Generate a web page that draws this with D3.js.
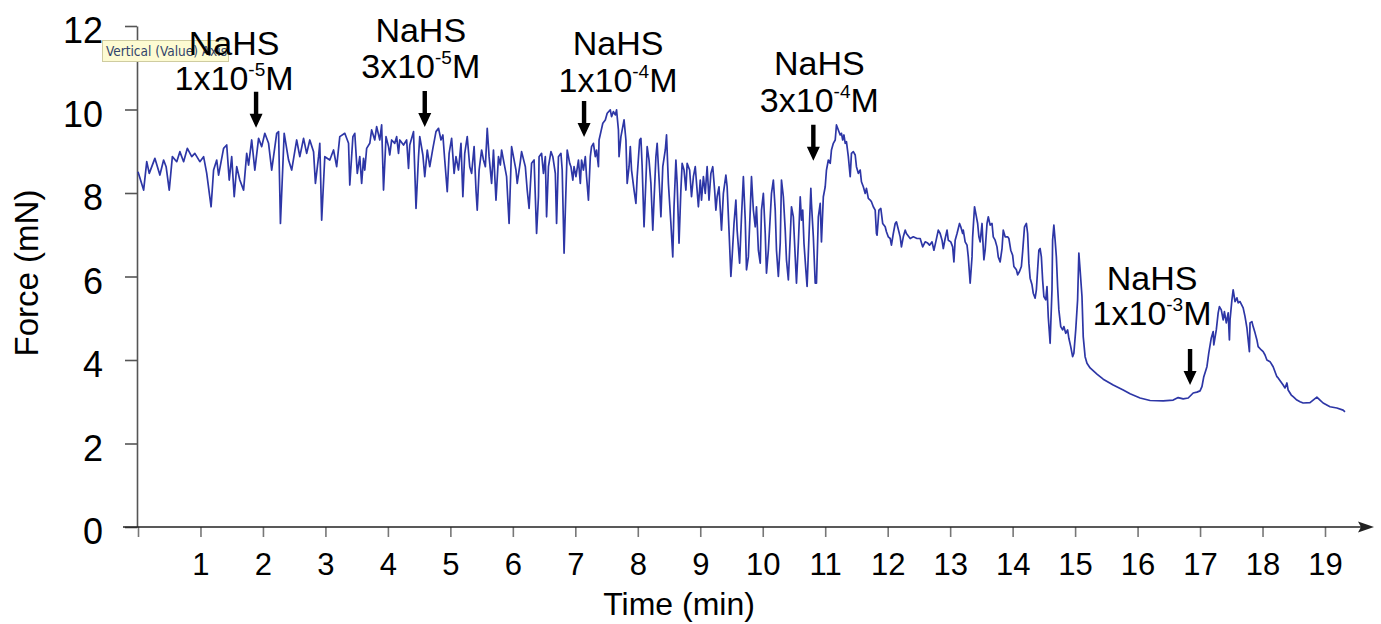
<!DOCTYPE html>
<html>
<head>
<meta charset="utf-8">
<script src="https://cdn.jsdelivr.net/npm/d3@7"></script>
<style>
  html, body { margin: 0; padding: 0; background: #fff; }
  svg { display: block; font-family: "Liberation Sans", Arial, Helvetica, sans-serif; }
</style>
</head>
<body>
<svg id="chart" width="1381" height="624"></svg>
<script>
// Isometric force recording (mN) against time (min), with cumulative NaHS additions.
const traceTime = [
  0.00,0.09,0.14,0.18,0.27,0.35,0.41,0.45,0.50,0.55,0.62,0.67,0.73,0.79,0.86,0.91,0.99,1.05,1.10,1.17,
  1.21,1.26,1.29,1.37,1.42,1.46,1.50,1.54,1.58,1.63,1.69,1.74,1.77,1.82,1.87,1.93,1.98,2.03,2.09,2.14,
  2.22,2.25,2.28,2.34,2.41,2.46,2.54,2.59,2.65,2.70,2.75,2.81,2.84,2.89,2.91,2.94,2.99,3.07,3.13,3.18,
  3.23,3.31,3.37,3.39,3.44,3.47,3.51,3.55,3.58,3.61,3.63,3.66,3.71,3.74,3.79,3.82,3.87,3.90,3.93,3.97,
  4.01,4.03,4.06,4.11,4.14,4.17,4.19,4.25,4.30,4.33,4.35,4.41,4.45,4.49,4.51,4.56,4.59,4.63,4.67,4.72,
  4.77,4.81,4.85,4.88,4.91,4.95,4.98,5.02,5.06,5.09,5.13,5.17,5.20,5.23,5.27,5.31,5.34,5.38,5.41,5.43,
  5.46,5.50,5.53,5.56,5.59,5.62,5.66,5.69,5.73,5.77,5.80,5.82,5.86,5.90,5.94,5.98,6.01,6.05,6.07,6.12,
  6.14,6.20,6.23,6.26,6.30,6.34,6.38,6.41,6.42,6.46,6.49,6.52,6.54,6.57,6.61,6.64,6.68,6.70,6.73,6.77,
  6.79,6.82,6.85,6.87,6.91,6.93,6.96,6.98,7.01,7.05,7.08,7.10,7.13,7.16,7.18,7.21,7.24,7.26,7.29,7.32,
  7.34,7.37,7.38,7.41,7.44,7.48,7.51,7.56,7.58,7.61,7.64,7.66,7.69,7.70,7.73,7.76,7.78,7.81,7.83,7.86,
  7.88,7.90,7.94,7.97,7.99,8.03,8.05,8.07,8.10,8.13,8.15,8.18,8.21,8.24,8.26,8.29,8.31,8.35,8.37,8.40,
  8.44,8.46,8.49,8.53,8.56,8.58,8.61,8.63,8.66,8.69,8.71,8.74,8.77,8.79,8.83,8.86,8.89,8.92,8.97,9.00,
  9.02,9.05,9.08,9.11,9.14,9.17,9.20,9.23,9.25,9.27,9.30,9.34,9.37,9.41,9.43,9.46,9.49,9.51,9.54,9.57,
  9.59,9.63,9.66,9.69,9.72,9.74,9.77,9.80,9.82,9.85,9.88,9.90,9.93,9.96,9.98,10.01,10.04,10.06,10.09,10.12,
  10.14,10.17,10.20,10.22,10.25,10.28,10.30,10.33,10.36,10.38,10.41,10.44,10.46,10.49,10.52,10.54,10.57,10.60,10.62,10.64,
  10.66,10.69,10.71,10.74,10.77,10.78,10.81,10.84,10.86,10.89,10.92,10.94,10.97,11.00,11.02,11.05,11.08,11.10,11.13,11.16,
  11.18,11.21,11.24,11.26,11.28,11.30,11.32,11.34,11.37,11.40,11.42,11.45,11.48,11.50,11.53,11.56,11.58,11.61,11.64,11.66,
  11.69,11.72,11.74,11.77,11.80,11.82,11.83,11.86,11.89,11.92,11.96,11.98,12.01,12.04,12.06,12.09,12.12,12.14,12.20,12.22,
  12.25,12.28,12.30,12.36,12.41,12.47,12.52,12.56,12.60,12.64,12.67,12.71,12.74,12.77,12.81,12.84,12.87,12.89,12.92,12.95,
  12.97,13.01,13.04,13.06,13.08,13.11,13.13,13.15,13.17,13.20,13.21,13.24,13.27,13.29,13.32,13.35,13.36,13.39,13.41,13.44,
  13.46,13.48,13.51,13.52,13.54,13.56,13.59,13.61,13.64,13.67,13.69,13.72,13.75,13.77,13.80,13.83,13.85,13.88,13.92,13.94,
  13.97,14.00,14.02,14.06,14.08,14.11,14.14,14.16,14.19,14.22,14.24,14.26,14.28,14.31,14.33,14.36,14.38,14.40,14.42,14.44,
  14.46,14.48,14.50,14.53,14.55,14.57,14.60,14.63,14.64,14.66,14.68,14.70,14.72,14.74,14.77,14.80,14.82,14.85,14.88,14.90,
  14.93,14.96,14.98,15.01,15.04,15.06,15.08,15.11,15.13,15.16,15.19,15.24,15.35,15.45,15.61,15.77,15.88,16.04,16.20,16.41,
  16.57,16.65,16.73,16.81,16.89,16.95,17.00,17.03,17.06,17.11,17.14,17.18,17.21,17.22,17.26,17.29,17.31,17.34,17.37,17.39,
  17.42,17.45,17.47,17.48,17.51,17.53,17.56,17.59,17.61,17.64,17.69,17.72,17.75,17.79,17.80,17.83,17.85,17.88,17.91,17.93,
  17.98,18.01,18.04,18.07,18.12,18.17,18.23,18.25,18.33,18.36,18.39,18.41,18.46,18.49,18.55,18.60,18.65,18.76,18.87,18.92,
  18.97,19.08,19.19,19.29,19.32
];
const traceForce = [
  8.51,8.07,8.75,8.47,8.83,8.43,8.79,8.63,8.07,8.87,8.75,8.99,8.75,9.07,8.87,8.95,8.75,8.87,8.47,7.67,
  8.55,8.79,8.43,9.07,9.15,8.31,8.87,7.91,8.63,8.31,8.07,8.95,8.67,9.27,8.55,9.31,9.11,9.43,9.19,8.55,
  9.43,9.47,7.27,9.43,8.79,8.55,9.27,8.87,9.31,8.95,9.27,8.99,8.23,8.87,9.19,7.35,8.87,8.79,9.03,8.63,
  9.35,9.43,9.19,8.19,9.35,9.43,8.47,8.87,8.23,8.83,8.55,9.07,9.19,9.51,9.27,9.59,9.27,9.63,8.07,9.35,
  9.11,8.91,9.27,9.19,9.35,8.95,9.27,9.15,9.27,8.59,9.15,9.47,7.63,8.87,9.35,8.91,8.39,9.03,8.63,9.07,
  9.47,9.55,9.27,9.39,8.79,8.03,8.95,9.31,8.47,8.87,8.55,9.19,7.91,8.95,9.35,8.63,8.47,9.11,8.07,7.59,
  8.55,9.03,8.79,8.63,9.55,8.87,8.23,9.03,7.83,8.87,8.67,9.03,8.71,8.39,7.27,9.11,8.87,8.55,8.23,8.75,
  8.99,8.63,8.07,7.63,8.71,8.79,7.03,7.91,8.87,8.95,8.47,8.87,7.43,8.63,8.99,8.87,8.47,7.27,8.87,8.95,
  8.55,6.56,8.07,9.03,8.71,8.63,8.31,8.63,8.39,8.79,8.23,8.79,8.55,8.87,8.39,7.83,8.87,9.11,9.19,8.87,
  9.03,8.63,9.27,9.47,9.67,9.75,9.91,9.99,9.83,9.95,9.87,9.99,9.51,8.87,9.35,9.59,9.75,9.27,8.23,8.63,
  9.11,8.55,8.07,7.75,8.39,9.27,9.31,8.63,7.19,8.31,9.11,8.79,8.23,7.11,7.83,8.87,9.19,8.07,7.43,8.63,
  9.03,9.39,8.23,7.27,6.47,7.67,8.79,8.23,6.80,8.07,8.71,8.55,8.07,8.71,8.55,7.91,8.39,8.63,7.67,8.31,
  7.83,8.39,7.99,8.63,7.83,8.47,8.63,8.07,7.59,7.91,8.15,7.11,7.99,8.43,8.15,7.11,6.00,6.47,7.27,7.83,
  7.11,6.32,7.43,8.39,7.35,6.16,6.47,7.59,8.39,7.59,7.19,7.67,6.63,6.32,7.59,7.99,7.03,6.08,6.63,7.43,
  7.99,8.31,7.59,6.63,6.00,6.80,8.31,7.91,7.11,6.40,5.92,6.95,7.67,7.43,6.47,5.84,6.80,7.91,7.35,7.59,
  6.80,6.16,5.76,6.95,8.11,7.75,6.95,5.84,5.84,7.43,7.75,6.83,7.91,8.15,8.55,8.79,8.71,9.03,9.19,9.27,
  9.63,9.51,9.39,9.43,9.27,9.39,9.19,9.23,8.87,8.39,8.95,8.99,8.91,8.63,8.47,8.55,8.27,8.15,7.99,8.11,
  7.87,7.83,7.79,7.67,7.59,7.03,6.99,7.59,7.63,7.27,7.19,7.07,6.95,6.91,6.75,7.03,7.27,7.31,6.95,6.71,
  6.95,7.11,7.03,6.91,6.95,6.91,6.91,6.71,6.83,6.80,6.75,6.83,6.63,6.83,7.11,7.03,6.87,6.67,6.91,7.11,
  6.87,6.83,6.71,6.35,6.87,7.03,7.15,7.27,7.19,7.03,7.11,6.83,6.75,6.47,5.84,6.47,6.95,7.67,7.51,7.27,
  6.95,6.83,7.27,6.95,6.40,6.63,7.27,7.43,7.23,7.27,6.95,6.87,6.71,6.47,6.35,6.67,7.11,6.95,6.95,6.91,
  6.63,6.51,6.24,6.16,6.04,6.12,6.24,6.59,7.19,7.27,7.03,6.32,5.96,5.80,5.60,5.48,5.68,6.16,6.63,6.67,
  6.47,5.92,5.52,5.44,5.76,5.04,4.40,5.68,6.87,7.23,6.87,6.47,5.76,5.20,4.80,4.72,4.80,4.64,4.72,4.52,
  4.32,4.08,4.16,4.72,5.44,6.56,6.16,5.52,4.56,4.08,3.92,3.81,3.66,3.54,3.40,3.28,3.19,3.09,3.03,3.02,
  3.04,3.10,3.07,3.09,3.21,3.23,3.26,3.36,3.60,3.84,4.17,4.53,4.68,4.36,4.72,5.13,5.28,5.20,4.96,5.16,
  4.89,5.13,4.48,4.96,5.44,5.68,5.40,5.49,5.37,5.40,5.25,5.04,4.77,4.20,4.89,4.92,4.80,4.65,4.48,4.32,
  4.24,4.20,4.12,4.00,3.96,3.84,3.60,3.57,3.40,3.33,3.45,3.28,3.16,3.12,3.04,3.00,2.97,2.98,3.11,3.04,
  2.97,2.88,2.85,2.80,2.76
];

const yTicks = [0, 2, 4, 6, 8, 10, 12];
const xTicks = d3.range(0, 20);

// NaHS additions: concentration (mantissa x 10^exponent M), time of addition, force at arrow tip
const doseMantissa = ["1", "3", "1", "3", "1"];
const doseExponent = ["-5", "-5", "-4", "-4", "-3"];
const doseTime = [1.89, 4.59, 7.14, 10.81, 16.84];
const doseArrowTip = [9.56, 9.58, 9.34, 8.77, 3.40];

// label placement relative to the arrow (px)
const labelShiftX = [-22, -4, 34, 6, -38];
const labelBaseline1 = [55, 42, 55, 75, 290];
const labelBaseline2 = [90, 78, 92, 112, 325];

const svg = d3.select("#chart");
const x = d3.scaleLinear().domain([0, 19]).range([138, 1325]);
const y = d3.scaleLinear().domain([0, 12]).range([527, 26]);

// y axis
const gy = svg.append("g").attr("transform", "translate(137,0)")
  .call(d3.axisLeft(y).tickValues(yTicks).tickSize(12).tickSizeOuter(0).tickPadding(22));
gy.select(".domain").attr("stroke", "#555").attr("stroke-width", 1.6);
gy.selectAll(".tick line").attr("stroke", "#555").attr("stroke-width", 1.6);
gy.selectAll(".tick text").attr("font-size", 36).attr("fill", "#000")
  .attr("dy", "0.47em").attr("font-family", "Liberation Sans, Arial, sans-serif");

// x axis
const gx = svg.append("g").attr("transform", "translate(0,527)")
  .call(d3.axisBottom(x).tickValues(xTicks).tickSize(10).tickSizeOuter(0).tickPadding(16)
    .tickFormat(d => d === 0 ? "" : d));
gx.select(".domain").remove();
gx.selectAll(".tick line").attr("stroke", "#777").attr("stroke-width", 1.6);
gx.selectAll(".tick text").attr("font-size", 31).attr("fill", "#000")
  .attr("font-family", "Liberation Sans, Arial, sans-serif");
svg.append("line").attr("x1", 123).attr("x2", 1362).attr("y1", 527).attr("y2", 527)
  .attr("stroke", "#222").attr("stroke-width", 1.6);
svg.append("path").attr("d", "M1374,527 L1358,521.5 L1361,527 L1358,532.5 Z").attr("fill", "#222");

// axis titles
svg.append("text").attr("x", 679).attr("y", 615).attr("text-anchor", "middle")
  .attr("font-size", 32).attr("fill", "#000").text("Time (min)");
svg.append("text").attr("transform", "translate(38,273) rotate(-90)").attr("text-anchor", "middle")
  .attr("font-size", 33).attr("fill", "#000").text("Force (mN)");

// force trace
const trace = traceTime.map((t, i) => ({ t, f: traceForce[i] }));
svg.append("path").datum(trace)
  .attr("fill", "none").attr("stroke", "#2d36a6").attr("stroke-width", 1.7)
  .attr("stroke-linejoin", "round")
  .attr("d", d3.line().x(d => x(d.t)).y(d => y(d.f)));

// hover tooltip over the value axis
const tip = svg.append("g");
tip.append("rect").attr("x", 102.5).attr("y", 40.5).attr("width", 126).attr("height", 21)
  .attr("fill", "#fdfbd2").attr("stroke", "#cfcca0");
tip.append("text").attr("x", 106).attr("y", 56).attr("font-size", 13.5).attr("fill", "#33456b")
  .attr("font-family", "DejaVu Sans Condensed, Liberation Sans, sans-serif")
  .text("Vertical (Value) Axis");

// NaHS annotations
doseTime.forEach((t, i) => {
  const ax = x(t), tipY = y(doseArrowTip[i]);
  const g = svg.append("g");
  g.append("path")
    .attr("d", `M${ax - 2.2},${tipY - 36} L${ax + 2.2},${tipY - 36} L${ax + 2.2},${tipY - 14} ` +
               `L${ax + 6.5},${tipY - 14} L${ax},${tipY} L${ax - 6.5},${tipY - 14} L${ax - 2.2},${tipY - 14} Z`)
    .attr("fill", "#000");
  const cx = ax + labelShiftX[i];
  g.append("text").attr("x", cx).attr("y", labelBaseline1[i]).attr("text-anchor", "middle")
    .attr("font-size", 34).attr("fill", "#000").text("NaHS");
  const t2 = g.append("text").attr("x", cx).attr("y", labelBaseline2[i]).attr("text-anchor", "middle")
    .attr("font-size", 34).attr("fill", "#000");
  t2.append("tspan").text(doseMantissa[i] + "x10");
  t2.append("tspan").attr("font-size", 19).attr("dy", -14).text(doseExponent[i]);
  t2.append("tspan").attr("dy", 14).text("M");
});
</script>
</body>
</html>
